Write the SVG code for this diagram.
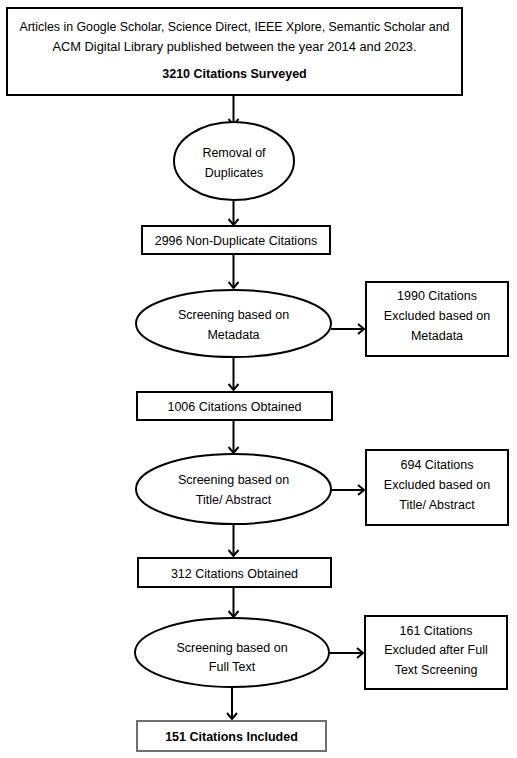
<svg xmlns="http://www.w3.org/2000/svg" width="517" height="758" viewBox="0 0 517 758">
<style>
.b{fill:#fff;stroke:#000;stroke-width:2}
.g{fill:#fff;stroke:#6e6e6e;stroke-width:2}
.c{stroke:#000;stroke-width:2;fill:none}
text{font-family:"Liberation Sans",Arial,sans-serif;font-size:12.5px;fill:#000;text-anchor:middle}
.bold{font-weight:bold}
</style>
<defs>
<marker id="ah" markerWidth="12" markerHeight="12" refX="9" refY="6" orient="auto" markerUnits="userSpaceOnUse">
<path d="M3,1 L9,6 L3,11" fill="none" stroke="#000" stroke-width="2"/>
</marker>
</defs>
<rect width="517" height="758" fill="#fff"/>
<g id="connectors">
<line class="c" x1="233.5" y1="95" x2="233.5" y2="125" marker-end="url(#ah)"/>
<line class="c" x1="233.5" y1="200" x2="233.5" y2="225" marker-end="url(#ah)"/>
<line class="c" x1="233.5" y1="254" x2="233.5" y2="288" marker-end="url(#ah)"/>
<line class="c" x1="331" y1="329" x2="364" y2="329" marker-end="url(#ah)"/>
<line class="c" x1="233.5" y1="357" x2="233.5" y2="390" marker-end="url(#ah)"/>
<line class="c" x1="233.5" y1="420" x2="233.5" y2="453" marker-end="url(#ah)"/>
<line class="c" x1="331" y1="490" x2="364" y2="490" marker-end="url(#ah)"/>
<line class="c" x1="233.5" y1="524" x2="233.5" y2="556" marker-end="url(#ah)"/>
<line class="c" x1="233.5" y1="587" x2="233.5" y2="617" marker-end="url(#ah)"/>
<line class="c" x1="329" y1="653" x2="363" y2="653" marker-end="url(#ah)"/>
<line class="c" x1="232" y1="687" x2="232" y2="719" marker-end="url(#ah)"/>
</g>
<g id="n1">
<rect class="b" x="7" y="8" width="455" height="87"/>
<text x="234.5" y="31" textLength="430" lengthAdjust="spacingAndGlyphs">Articles in Google Scholar, Science Direct, IEEE Xplore, Semantic Scholar and</text>
<text x="234.5" y="51" textLength="364" lengthAdjust="spacingAndGlyphs">ACM Digital Library published between the year 2014 and 2023.</text>
<text class="bold" x="234.5" y="78">3210 Citations Surveyed</text>
</g>
<g id="n2">
<ellipse class="b" cx="234" cy="161" rx="60" ry="39"/>
<text x="234" y="157">Removal of</text>
<text x="234" y="177">Duplicates</text>
</g>
<g id="n3">
<rect class="b" x="142" y="226" width="188" height="28"/>
<text x="236" y="245">2996 Non-Duplicate Citations</text>
</g>
<g id="n4">
<ellipse class="b" cx="233.5" cy="323.5" rx="97.5" ry="33.5"/>
<text x="233.5" y="319">Screening based on</text>
<text x="233.5" y="339">Metadata</text>
</g>
<g id="n5">
<rect class="b" x="366" y="282" width="142" height="74"/>
<text x="437" y="300">1990 Citations</text>
<text x="437" y="320">Excluded based on</text>
<text x="437" y="340">Metadata</text>
</g>
<g id="n6">
<rect class="b" x="137" y="392" width="195" height="28"/>
<text x="234.5" y="411">1006 Citations Obtained</text>
</g>
<g id="n7">
<ellipse class="b" cx="233.5" cy="489" rx="97.5" ry="35"/>
<text x="233.5" y="484">Screening based on</text>
<text x="233.5" y="504">Title/ Abstract</text>
</g>
<g id="n8">
<rect class="b" x="366" y="450" width="142" height="75"/>
<text x="437" y="469">694 Citations</text>
<text x="437" y="489">Excluded based on</text>
<text x="437" y="509">Title/ Abstract</text>
</g>
<g id="n9">
<rect class="b" x="138" y="558" width="193" height="29"/>
<text x="234.5" y="578">312 Citations Obtained</text>
</g>
<g id="n10">
<ellipse class="b" cx="232" cy="652.5" rx="97" ry="34.5"/>
<text x="232" y="652">Screening based on</text>
<text x="232" y="671">Full Text</text>
</g>
<g id="n11">
<rect class="b" x="365" y="616" width="142" height="73"/>
<text x="436" y="635">161 Citations</text>
<text x="436" y="654">Excluded after Full</text>
<text x="436" y="674">Text Screening</text>
</g>
<g id="n12">
<rect class="g" x="137" y="721" width="189" height="30"/>
<text class="bold" x="231.5" y="741">151 Citations Included</text>
</g>
</svg>
